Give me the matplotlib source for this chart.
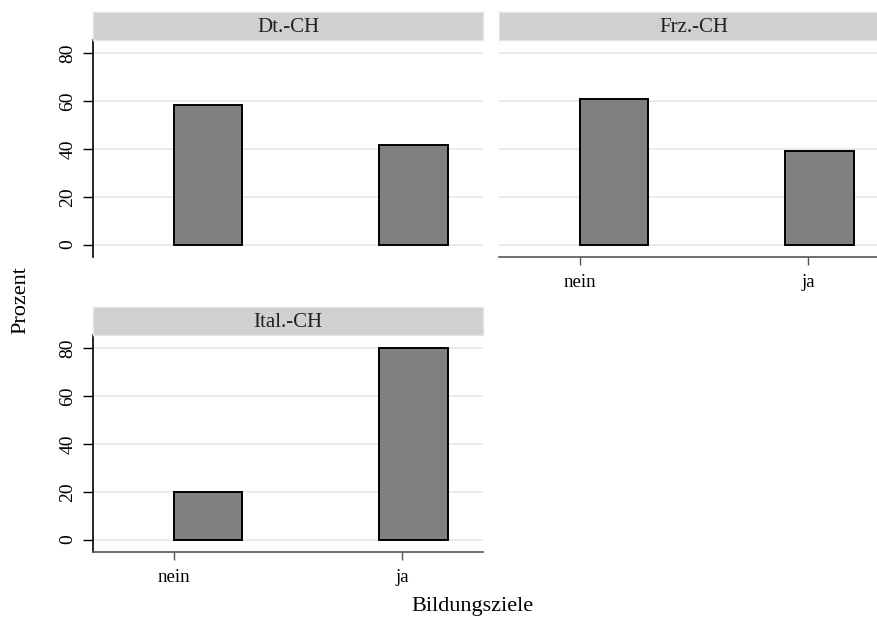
import matplotlib
matplotlib.use("Agg")
import matplotlib.pyplot as plt

# Data
regions = ['Dt.-CH', 'Frz.-CH', 'Ital.-CH']
categories = ['nein', 'ja']
prozent = {
    'Dt.-CH': [58.4, 41.6],
    'Frz.-CH': [60.9, 39.1],
    'Ital.-CH': [20.0, 80.0],
}

plt.rcParams['font.family'] = ['Liberation Serif', 'DejaVu Serif']

W, H = 878, 619
fig = plt.figure(figsize=(W / 100, H / 100), dpi=100)


def px_box(left, top, right, bottom):
    return [left / W, 1 - bottom / H, (right - left) / W, (bottom - top) / H]


# panel layout in pixels: (left, top, right, bottom), show y axis, show x axis
panels = {
    'Dt.-CH': (93, 40, 483, 257, True, False),
    'Frz.-CH': (499, 40, 889, 257, False, True),
    'Ital.-CH': (93, 335, 483, 552, True, True),
}

tick_pos = [0, 1]
bar_pos = [0.15, 1.05]

for reg in regions:
    l, t, r, b, show_y, show_x = panels[reg]
    ax = fig.add_axes(px_box(l, t, r, b))
    ax.bar(bar_pos, prozent[reg], width=0.3, color='#808080',
           edgecolor='black', linewidth=1.4, zorder=3)
    ax.set_xlim(-0.355, 1.355)
    ax.set_ylim(-5.2, 85.6)
    ax.set_yticks([0, 20, 40, 60, 80])
    ax.grid(axis='y', color='#e8e8e8', linewidth=1.3, zorder=0)
    for s in ['top', 'right']:
        ax.spines[s].set_visible(False)
    if show_y:
        ax.spines['left'].set_color('black')
        ax.spines['left'].set_linewidth(1.2)
        ax.tick_params(axis='y', length=7, width=1, pad=5, labelsize=14,
                       labelrotation=90)
        for lab in ax.get_yticklabels():
            lab.set_va('center')
    else:
        ax.spines['left'].set_visible(False)
        ax.tick_params(axis='y', left=False, labelleft=False)
    if show_x:
        ax.spines['bottom'].set_color('#555555')
        ax.spines['bottom'].set_linewidth(1.2)
        ax.set_xticks(tick_pos)
        ax.set_xticklabels(categories)
        ax.tick_params(axis='x', length=6, width=1, color='#555555', pad=6,
                       labelsize=13.5)
    else:
        ax.spines['bottom'].set_visible(False)
        ax.tick_params(axis='x', bottom=False, labelbottom=False)
        ax.set_xticks(tick_pos)

    # strip header
    sax = fig.add_axes(px_box(l, t - 28, r, t))
    sax.set_facecolor('#d0d0d0')
    for s in sax.spines.values():
        s.set_color('#dde8ee')
        s.set_linewidth(1)
    sax.set_xticks([])
    sax.set_yticks([])
    sax.text(0.5, 0.45, reg, transform=sax.transAxes, ha='center',
             va='center', fontsize=15, color='#222222')

fig.text(21 / W, 1 - 300 / H, 'Prozent', rotation=90, ha='center',
         va='center', fontsize=16)
fig.text(472 / W, 1 - 607 / H, 'Bildungsziele', ha='center', va='center',
         fontsize=16)

fig.savefig('out.png', dpi=100, facecolor='white')
